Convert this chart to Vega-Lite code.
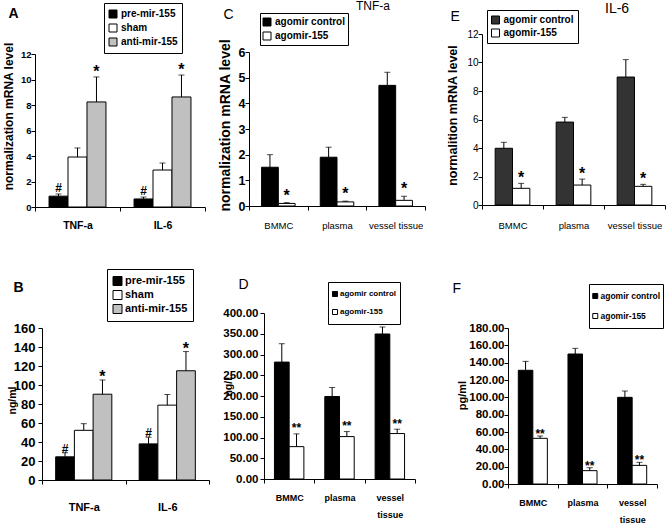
{
  "$schema": "https://vega.github.io/schema/vega-lite/v6.json",
  "padding": 0,
  "spacing": 0,
  "bounds": "flush",
  "align": "each",
  "columns": 3,
  "resolve": {
    "scale": {"color": "independent", "xOffset": "independent", "x": "independent", "y": "independent"},
    "legend": {"color": "independent"}
  },
  "config": {
    "view": {"stroke": null},
    "axis": {"domainColor": "black", "tickColor": "black", "labelColor": "black", "titleColor": "black", "grid": false, "tickSize": 4, "domainWidth": 1, "tickWidth": 1},
    "legend": {"strokeColor": "black", "fillColor": "white", "symbolType": "square", "symbolStrokeColor": "black", "symbolStrokeWidth": 1, "labelColor": "black", "labelOffset": 3, "labelFontWeight": "bold", "labelFont": "Liberation Sans, Arial, sans-serif", "rowPadding": 0}
  },
  "concat": [
    {
      "width": 220, "height": 250,
      "data": {"values": [
        {"cat": "TNF-a", "grp": "pre-mir-155", "val": 0.85, "hi": 1.02, "sig": "#"},
        {"cat": "TNF-a", "grp": "sham", "val": 3.92, "hi": 4.63, "sig": ""},
        {"cat": "TNF-a", "grp": "anti-mir-155", "val": 8.24, "hi": 10.2, "sig": "*"},
        {"cat": "IL-6", "grp": "pre-mir-155", "val": 0.63, "hi": 0.78, "sig": "#"},
        {"cat": "IL-6", "grp": "sham", "val": 2.9, "hi": 3.45, "sig": ""},
        {"cat": "IL-6", "grp": "anti-mir-155", "val": 8.63, "hi": 10.35, "sig": "*"}
      ]},
      "encoding": {
        "x": {"field": "cat", "type": "nominal", "sort": ["TNF-a", "IL-6"], "scale": {"range": [35, 205], "paddingInner": 0, "paddingOuter": 0},
          "axis": {"offset": -43, "title": "A", "titleX": 8, "titleY": -190, "titleAlign": "left", "titleBaseline": "alphabetic", "titleAngle": 0, "titleFont": "Liberation Sans, Arial, sans-serif", "titleFontSize": 14, "titleFontWeight": "bold",
            "labelAngle": 0, "labelFont": "Liberation Sans, Arial, sans-serif", "labelFontSize": 10.5, "labelFontWeight": "bold", "labelPadding": 9.5, "tickBand": "extent"}},
        "xOffset": {"field": "grp", "type": "nominal", "sort": ["pre-mir-155", "sham", "anti-mir-155"], "scale": {"paddingInner": 0, "paddingOuter": 0.74}},
        "y": {"field": "val", "type": "quantitative", "scale": {"domain": [0, 12], "nice": false, "range": [207, 54]},
          "axis": {"values": [0, 2, 4, 6, 8, 10, 12], "offset": -35, "title": "normalization mRNA level", "labelFont": "Liberation Sans, Arial, sans-serif", "labelFontSize": 9.5, "labelFontWeight": "bold", "labelPadding": 0,
            "titleX": -27, "titleY": 116, "titleAlign": "center", "titleBaseline": "middle", "titleAngle": 270, "titleFont": "Liberation Sans, Arial, sans-serif", "titleFontSize": 12, "titleFontWeight": "bold"}}
      },
      "layer": [
        {"mark": {"type": "bar", "stroke": "black", "strokeWidth": 1},
          "encoding": {
            "color": {"field": "grp", "type": "nominal", "sort": ["pre-mir-155", "sham", "anti-mir-155"],
              "scale": {"domain": ["pre-mir-155", "sham", "anti-mir-155"], "range": ["#000000", "#ffffff", "#c0c0c0"]},
              "legend": {"orient": "none", "legendX": 104, "legendY": 3, "title": null, "padding": 4, "symbolSize": 64, "clipHeight": 14, "labelFontSize": 10}}
          }},
        {"mark": {"type": "rule", "color": "black", "strokeWidth": 1}, "encoding": {"y2": {"field": "hi"}}},
        {"mark": {"type": "tick", "color": "black", "size": 6, "thickness": 1, "orient": "horizontal"}, "encoding": {"y": {"field": "hi", "type": "quantitative", "scale": {"domain": [0, 12], "nice": false, "range": [207, 54]},
          "axis": {"values": [0, 2, 4, 6, 8, 10, 12], "offset": -35, "title": "normalization mRNA level", "labelFont": "Liberation Sans, Arial, sans-serif", "labelFontSize": 9.5, "labelFontWeight": "bold", "labelPadding": 0,
            "titleX": -27, "titleY": 116, "titleAlign": "center", "titleBaseline": "middle", "titleAngle": 270, "titleFont": "Liberation Sans, Arial, sans-serif", "titleFontSize": 12, "titleFontWeight": "bold"}}}},
        {"transform": [{"filter": "datum.sig == '#'"}], "mark": {"type": "text", "font": "Liberation Sans, Arial, sans-serif", "fontSize": 12, "fontWeight": "bold", "baseline": "alphabetic", "dy": -2},
          "encoding": {"y": {"field": "hi", "type": "quantitative", "scale": {"domain": [0, 12], "nice": false, "range": [207, 54]},
          "axis": {"values": [0, 2, 4, 6, 8, 10, 12], "offset": -35, "title": "normalization mRNA level", "labelFont": "Liberation Sans, Arial, sans-serif", "labelFontSize": 9.5, "labelFontWeight": "bold", "labelPadding": 0,
            "titleX": -27, "titleY": 116, "titleAlign": "center", "titleBaseline": "middle", "titleAngle": 270, "titleFont": "Liberation Sans, Arial, sans-serif", "titleFontSize": 12, "titleFontWeight": "bold"}}, "text": {"field": "sig"}}},
        {"transform": [{"filter": "datum.sig == '*'"}], "mark": {"type": "text", "font": "Liberation Sans, Arial, sans-serif", "fontSize": 16, "fontWeight": "bold", "baseline": "alphabetic", "dy": 0},
          "encoding": {"y": {"field": "hi", "type": "quantitative", "scale": {"domain": [0, 12], "nice": false, "range": [207, 54]},
          "axis": {"values": [0, 2, 4, 6, 8, 10, 12], "offset": -35, "title": "normalization mRNA level", "labelFont": "Liberation Sans, Arial, sans-serif", "labelFontSize": 9.5, "labelFontWeight": "bold", "labelPadding": 0,
            "titleX": -27, "titleY": 116, "titleAlign": "center", "titleBaseline": "middle", "titleAngle": 270, "titleFont": "Liberation Sans, Arial, sans-serif", "titleFontSize": 12, "titleFontWeight": "bold"}}, "text": {"field": "sig"}}}
      ]
    },
    {
      "width": 220, "height": 250,
      "title": {"text": "TNF-a", "anchor": "start", "frame": "group", "dx": 136, "offset": -22, "baseline": "alphabetic", "font": "Liberation Sans, Arial, sans-serif", "fontSize": 12, "fontWeight": "normal", "color": "black"},
      "data": {"values": [
        {"cat": "BMMC", "grp": "agomir control", "val": 1.51, "hi": 2.0, "sig": ""},
        {"cat": "BMMC", "grp": "agomir-155", "val": 0.10, "hi": 0.13, "sig": "*"},
        {"cat": "plasma", "grp": "agomir control", "val": 1.9, "hi": 2.29, "sig": ""},
        {"cat": "plasma", "grp": "agomir-155", "val": 0.16, "hi": 0.19, "sig": "*"},
        {"cat": "vessel tissue", "grp": "agomir control", "val": 4.70, "hi": 5.21, "sig": ""},
        {"cat": "vessel tissue", "grp": "agomir-155", "val": 0.22, "hi": 0.38, "sig": "*"}
      ]},
      "encoding": {
        "x": {"field": "cat", "type": "nominal", "sort": ["BMMC", "plasma", "vessel tissue"], "scale": {"range": [29, 205], "paddingInner": 0, "paddingOuter": 0},
          "axis": {"offset": -44, "title": "C", "titleX": 3, "titleY": -188, "titleAlign": "left", "titleBaseline": "alphabetic", "titleAngle": 0, "titleFont": "Liberation Sans, Arial, sans-serif", "titleFontSize": 14, "titleFontWeight": "normal",
            "labelAngle": 0, "labelFont": "Liberation Sans, Arial, sans-serif", "labelFontSize": 9.5, "labelFontWeight": "normal", "labelPadding": 10, "tickBand": "extent"}},
        "xOffset": {"field": "grp", "type": "nominal", "sort": ["agomir control", "agomir-155"], "scale": {"paddingInner": 0, "paddingOuter": 0.75}},
        "y": {"field": "val", "type": "quantitative", "scale": {"domain": [0, 6], "nice": false, "range": [206, 52]},
          "axis": {"values": [0, 1, 2, 3, 4, 5, 6], "offset": -29, "title": "normalization mRNA level", "labelFont": "Liberation Sans, Arial, sans-serif", "labelFontSize": 12.5, "labelFontWeight": "bold", "labelPadding": 0,
            "titleX": -24, "titleY": 125, "titleAlign": "center", "titleBaseline": "middle", "titleAngle": 270, "titleFont": "Liberation Sans, Arial, sans-serif", "titleFontSize": 14, "titleFontWeight": "bold"}}
      },
      "layer": [
        {"mark": {"type": "bar", "stroke": "black", "strokeWidth": 1},
          "encoding": {
            "color": {"field": "grp", "type": "nominal", "sort": ["agomir control", "agomir-155"],
              "scale": {"domain": ["agomir control", "agomir-155"], "range": ["#000000", "#ffffff"]},
              "legend": {"orient": "none", "legendX": 40, "legendY": 13, "title": null, "padding": 2, "symbolSize": 64, "clipHeight": 14, "labelFontSize": 10}}
          }},
        {"mark": {"type": "rule", "color": "black", "strokeWidth": 1}, "encoding": {"y2": {"field": "hi"}}},
        {"mark": {"type": "tick", "color": "black", "size": 6, "thickness": 1, "orient": "horizontal"}, "encoding": {"y": {"field": "hi", "type": "quantitative", "scale": {"domain": [0, 6], "nice": false, "range": [206, 52]},
          "axis": {"values": [0, 1, 2, 3, 4, 5, 6], "offset": -29, "title": "normalization mRNA level", "labelFont": "Liberation Sans, Arial, sans-serif", "labelFontSize": 12.5, "labelFontWeight": "bold", "labelPadding": 0,
            "titleX": -24, "titleY": 125, "titleAlign": "center", "titleBaseline": "middle", "titleAngle": 270, "titleFont": "Liberation Sans, Arial, sans-serif", "titleFontSize": 14, "titleFontWeight": "bold"}}}},
        {"mark": {"type": "text", "font": "Liberation Sans, Arial, sans-serif", "fontSize": 16, "fontWeight": "bold", "baseline": "alphabetic", "dy": -2},
          "encoding": {"y": {"field": "hi", "type": "quantitative", "scale": {"domain": [0, 6], "nice": false, "range": [206, 52]},
          "axis": {"values": [0, 1, 2, 3, 4, 5, 6], "offset": -29, "title": "normalization mRNA level", "labelFont": "Liberation Sans, Arial, sans-serif", "labelFontSize": 12.5, "labelFontWeight": "bold", "labelPadding": 0,
            "titleX": -24, "titleY": 125, "titleAlign": "center", "titleBaseline": "middle", "titleAngle": 270, "titleFont": "Liberation Sans, Arial, sans-serif", "titleFontSize": 14, "titleFontWeight": "bold"}}, "text": {"field": "sig"}}}
      ]
    },
    {
      "width": 230, "height": 250,
      "title": {"text": "IL-6", "anchor": "start", "frame": "group", "dx": 165, "offset": -27, "baseline": "alphabetic", "font": "Liberation Sans, Arial, sans-serif", "fontSize": 14, "fontWeight": "normal", "color": "black"},
      "data": {"values": [
        {"cat": "BMMC", "grp": "agomir control", "val": 3.98, "hi": 4.4, "sig": ""},
        {"cat": "BMMC", "grp": "agomir-155", "val": 1.17, "hi": 1.52, "sig": "*"},
        {"cat": "plasma", "grp": "agomir control", "val": 5.82, "hi": 6.15, "sig": ""},
        {"cat": "plasma", "grp": "agomir-155", "val": 1.40, "hi": 1.82, "sig": "*"},
        {"cat": "vessel tissue", "grp": "agomir control", "val": 8.98, "hi": 10.2, "sig": ""},
        {"cat": "vessel tissue", "grp": "agomir-155", "val": 1.31, "hi": 1.45, "sig": "*"}
      ]},
      "encoding": {
        "x": {"field": "cat", "type": "nominal", "sort": ["BMMC", "plasma", "vessel tissue"], "scale": {"range": [42, 225], "paddingInner": 0, "paddingOuter": 0},
          "axis": {"offset": -45, "title": "E", "titleX": 10, "titleY": -185, "titleAlign": "left", "titleBaseline": "alphabetic", "titleAngle": 0, "titleFont": "Liberation Sans, Arial, sans-serif", "titleFontSize": 14, "titleFontWeight": "normal",
            "labelAngle": 0, "labelFont": "Liberation Sans, Arial, sans-serif", "labelFontSize": 9.5, "labelFontWeight": "normal", "labelPadding": 11, "tickBand": "extent"}},
        "xOffset": {"field": "grp", "type": "nominal", "sort": ["agomir control", "agomir-155"], "scale": {"paddingInner": 0, "paddingOuter": 0.76}},
        "y": {"field": "val", "type": "quantitative", "scale": {"domain": [0, 12], "nice": false, "range": [205, 34]},
          "axis": {"values": [0, 2, 4, 6, 8, 10, 12], "offset": -42, "title": "normalition mRNA level", "labelFont": "Liberation Sans, Arial, sans-serif", "labelFontSize": 10, "labelFontWeight": "normal", "labelPadding": 0,
            "titleX": -30, "titleY": 115, "titleAlign": "center", "titleBaseline": "middle", "titleAngle": 270, "titleFont": "Liberation Sans, Arial, sans-serif", "titleFontSize": 12.5, "titleFontWeight": "bold"}}
      },
      "layer": [
        {"mark": {"type": "bar", "stroke": "black", "strokeWidth": 1},
          "encoding": {
            "color": {"field": "grp", "type": "nominal", "sort": ["agomir control", "agomir-155"],
              "scale": {"domain": ["agomir control", "agomir-155"], "range": ["#333333", "#ffffff"]},
              "legend": {"orient": "none", "legendX": 47, "legendY": 10, "title": null, "padding": 3.5, "symbolSize": 64, "clipHeight": 13, "labelFontSize": 10}}
          }},
        {"mark": {"type": "rule", "color": "black", "strokeWidth": 1}, "encoding": {"y2": {"field": "hi"}}},
        {"mark": {"type": "tick", "color": "black", "size": 6, "thickness": 1, "orient": "horizontal"}, "encoding": {"y": {"field": "hi", "type": "quantitative", "scale": {"domain": [0, 12], "nice": false, "range": [205, 34]},
          "axis": {"values": [0, 2, 4, 6, 8, 10, 12], "offset": -42, "title": "normalition mRNA level", "labelFont": "Liberation Sans, Arial, sans-serif", "labelFontSize": 10, "labelFontWeight": "normal", "labelPadding": 0,
            "titleX": -30, "titleY": 115, "titleAlign": "center", "titleBaseline": "middle", "titleAngle": 270, "titleFont": "Liberation Sans, Arial, sans-serif", "titleFontSize": 12.5, "titleFontWeight": "bold"}}}},
        {"mark": {"type": "text", "font": "Liberation Sans, Arial, sans-serif", "fontSize": 16, "fontWeight": "bold", "baseline": "alphabetic", "dy": 0},
          "encoding": {"y": {"field": "hi", "type": "quantitative", "scale": {"domain": [0, 12], "nice": false, "range": [205, 34]},
          "axis": {"values": [0, 2, 4, 6, 8, 10, 12], "offset": -42, "title": "normalition mRNA level", "labelFont": "Liberation Sans, Arial, sans-serif", "labelFontSize": 10, "labelFontWeight": "normal", "labelPadding": 0,
            "titleX": -30, "titleY": 115, "titleAlign": "center", "titleBaseline": "middle", "titleAngle": 270, "titleFont": "Liberation Sans, Arial, sans-serif", "titleFontSize": 12.5, "titleFontWeight": "bold"}}, "text": {"field": "sig"}}}
      ]
    },
    {
      "width": 220, "height": 278,
      "data": {"values": [
        {"cat": "TNF-a", "grp": "pre-mir-155", "val": 24.4, "hi": 28.6, "sig": "#"},
        {"cat": "TNF-a", "grp": "sham", "val": 52.3, "hi": 59.3, "sig": ""},
        {"cat": "TNF-a", "grp": "anti-mir-155", "val": 90.3, "hi": 105.3, "sig": "*"},
        {"cat": "IL-6", "grp": "pre-mir-155", "val": 38, "hi": 45, "sig": "#"},
        {"cat": "IL-6", "grp": "sham", "val": 78.8, "hi": 90, "sig": ""},
        {"cat": "IL-6", "grp": "anti-mir-155", "val": 115, "hi": 135.2, "sig": "*"}
      ]},
      "encoding": {
        "x": {"field": "cat", "type": "nominal", "sort": ["TNF-a", "IL-6"], "scale": {"range": [42, 209], "paddingInner": 0, "paddingOuter": 0},
          "axis": {"offset": -48, "title": "B", "titleX": 13, "titleY": -189, "titleAlign": "left", "titleBaseline": "alphabetic", "titleAngle": 0, "titleFont": "Liberation Sans, Arial, sans-serif", "titleFontSize": 14, "titleFontWeight": "bold",
            "labelAngle": 0, "labelFont": "Liberation Sans, Arial, sans-serif", "labelFontSize": 11, "labelFontWeight": "bold", "labelPadding": 17, "tickBand": "extent"}},
        "xOffset": {"field": "grp", "type": "nominal", "sort": ["pre-mir-155", "sham", "anti-mir-155"], "scale": {"paddingInner": 0, "paddingOuter": 0.73}},
        "y": {"field": "val", "type": "quantitative", "scale": {"domain": [0, 160], "nice": false, "range": [230, 78]},
          "axis": {"values": [0, 20, 40, 60, 80, 100, 120, 140, 160], "offset": -42, "title": "ng/ml", "labelFont": "Liberation Sans, Arial, sans-serif", "labelFontSize": 13, "labelFontWeight": "bold", "labelPadding": 3,
            "titleX": -30, "titleY": 150, "titleAlign": "center", "titleBaseline": "middle", "titleAngle": 270, "titleFont": "Liberation Sans, Arial, sans-serif", "titleFontSize": 10.5, "titleFontWeight": "bold"}}
      },
      "layer": [
        {"mark": {"type": "bar", "stroke": "black", "strokeWidth": 1},
          "encoding": {
            "color": {"field": "grp", "type": "nominal", "sort": ["pre-mir-155", "sham", "anti-mir-155"],
              "scale": {"domain": ["pre-mir-155", "sham", "anti-mir-155"], "range": ["#000000", "#ffffff", "#c0c0c0"]},
              "legend": {"orient": "none", "legendX": 107, "legendY": 19, "title": null, "padding": 5, "symbolSize": 81, "clipHeight": 14, "labelOffset": 2, "labelFontSize": 11}}
          }},
        {"mark": {"type": "rule", "color": "black", "strokeWidth": 1}, "encoding": {"y2": {"field": "hi"}}},
        {"mark": {"type": "tick", "color": "black", "size": 6, "thickness": 1, "orient": "horizontal"}, "encoding": {"y": {"field": "hi", "type": "quantitative", "scale": {"domain": [0, 160], "nice": false, "range": [230, 78]},
          "axis": {"values": [0, 20, 40, 60, 80, 100, 120, 140, 160], "offset": -42, "title": "ng/ml", "labelFont": "Liberation Sans, Arial, sans-serif", "labelFontSize": 13, "labelFontWeight": "bold", "labelPadding": 3,
            "titleX": -30, "titleY": 150, "titleAlign": "center", "titleBaseline": "middle", "titleAngle": 270, "titleFont": "Liberation Sans, Arial, sans-serif", "titleFontSize": 10.5, "titleFontWeight": "bold"}}}},
        {"transform": [{"filter": "datum.sig == '#'"}], "mark": {"type": "text", "font": "Liberation Sans, Arial, sans-serif", "fontSize": 12, "fontWeight": "bold", "baseline": "alphabetic", "dy": 0},
          "encoding": {"y": {"field": "hi", "type": "quantitative", "scale": {"domain": [0, 160], "nice": false, "range": [230, 78]},
          "axis": {"values": [0, 20, 40, 60, 80, 100, 120, 140, 160], "offset": -42, "title": "ng/ml", "labelFont": "Liberation Sans, Arial, sans-serif", "labelFontSize": 13, "labelFontWeight": "bold", "labelPadding": 3,
            "titleX": -30, "titleY": 150, "titleAlign": "center", "titleBaseline": "middle", "titleAngle": 270, "titleFont": "Liberation Sans, Arial, sans-serif", "titleFontSize": 10.5, "titleFontWeight": "bold"}}, "text": {"field": "sig"}}},
        {"transform": [{"filter": "datum.sig == '*'"}], "mark": {"type": "text", "font": "Liberation Sans, Arial, sans-serif", "fontSize": 16, "fontWeight": "bold", "baseline": "alphabetic", "dy": 2},
          "encoding": {"y": {"field": "hi", "type": "quantitative", "scale": {"domain": [0, 160], "nice": false, "range": [230, 78]},
          "axis": {"values": [0, 20, 40, 60, 80, 100, 120, 140, 160], "offset": -42, "title": "ng/ml", "labelFont": "Liberation Sans, Arial, sans-serif", "labelFontSize": 13, "labelFontWeight": "bold", "labelPadding": 3,
            "titleX": -30, "titleY": 150, "titleAlign": "center", "titleBaseline": "middle", "titleAngle": 270, "titleFont": "Liberation Sans, Arial, sans-serif", "titleFontSize": 10.5, "titleFontWeight": "bold"}}, "text": {"field": "sig"}}}
      ]
    },
    {
      "width": 220, "height": 278,
      "data": {"values": [
        {"cat": "BMMC", "grp": "agomir control", "val": 281.7, "hi": 326, "sig": ""},
        {"cat": "BMMC", "grp": "agomir-155", "val": 78, "hi": 108.7, "sig": "**"},
        {"cat": "plasma", "grp": "agomir control", "val": 198.8, "hi": 220.5, "sig": ""},
        {"cat": "plasma", "grp": "agomir-155", "val": 102.2, "hi": 114.3, "sig": "**"},
        {"cat": "vessel tissue", "grp": "agomir control", "val": 349.4, "hi": 366.3, "sig": ""},
        {"cat": "vessel tissue", "grp": "agomir-155", "val": 109.5, "hi": 120, "sig": "**"}
      ]},
      "encoding": {
        "x": {"field": "cat", "type": "nominal", "sort": ["BMMC", "plasma", "vessel tissue"], "scale": {"range": [44, 195], "paddingInner": 0, "paddingOuter": 0},
          "axis": {"offset": -49, "title": "D", "titleX": 18, "titleY": -191, "titleAlign": "left", "titleBaseline": "alphabetic", "titleAngle": 0, "titleFont": "Liberation Sans, Arial, sans-serif", "titleFontSize": 14, "titleFontWeight": "normal",
            "labelAngle": 0, "labelExpr": "split(datum.label, ' ')", "labelLineHeight": 17, "labelFont": "Liberation Sans, Arial, sans-serif", "labelFontSize": 9, "labelFontWeight": "bold", "labelPadding": 10.5, "tickBand": "extent"}},
        "xOffset": {"field": "grp", "type": "nominal", "sort": ["agomir control", "agomir-155"], "scale": {"paddingInner": 0, "paddingOuter": 0.71}},
        "y": {"field": "val", "type": "quantitative", "scale": {"domain": [0, 400], "nice": false, "range": [229, 63]},
          "axis": {"values": [0, 50, 100, 150, 200, 250, 300, 350, 400], "format": ".2f", "offset": -44, "title": "ng/L", "labelFont": "Liberation Sans, Arial, sans-serif", "labelFontSize": 11.5, "labelFontWeight": "bold", "labelPadding": 2,
            "titleX": -36, "titleY": 135, "titleAlign": "center", "titleBaseline": "middle", "titleAngle": 270, "titleFont": "Liberation Sans, Arial, sans-serif", "titleFontSize": 10.5, "titleFontWeight": "bold"}}
      },
      "layer": [
        {"mark": {"type": "bar", "stroke": "black", "strokeWidth": 1},
          "encoding": {
            "color": {"field": "grp", "type": "nominal", "sort": ["agomir control", "agomir-155"],
              "scale": {"domain": ["agomir control", "agomir-155"], "range": ["#000000", "#ffffff"]},
              "legend": {"orient": "none", "legendX": 108, "legendY": 32, "title": null, "padding": 3, "symbolSize": 25, "clipHeight": 18, "labelOffset": 1, "labelFontSize": 8}}
          }},
        {"mark": {"type": "rule", "color": "black", "strokeWidth": 1}, "encoding": {"y2": {"field": "hi"}}},
        {"mark": {"type": "tick", "color": "black", "size": 6, "thickness": 1, "orient": "horizontal"}, "encoding": {"y": {"field": "hi", "type": "quantitative", "scale": {"domain": [0, 400], "nice": false, "range": [229, 63]},
          "axis": {"values": [0, 50, 100, 150, 200, 250, 300, 350, 400], "format": ".2f", "offset": -44, "title": "ng/L", "labelFont": "Liberation Sans, Arial, sans-serif", "labelFontSize": 11.5, "labelFontWeight": "bold", "labelPadding": 2,
            "titleX": -36, "titleY": 135, "titleAlign": "center", "titleBaseline": "middle", "titleAngle": 270, "titleFont": "Liberation Sans, Arial, sans-serif", "titleFontSize": 10.5, "titleFontWeight": "bold"}}}},
        {"mark": {"type": "text", "font": "Liberation Sans, Arial, sans-serif", "fontSize": 12, "fontWeight": "bold", "baseline": "alphabetic", "dy": -1.5},
          "encoding": {"y": {"field": "hi", "type": "quantitative", "scale": {"domain": [0, 400], "nice": false, "range": [229, 63]},
          "axis": {"values": [0, 50, 100, 150, 200, 250, 300, 350, 400], "format": ".2f", "offset": -44, "title": "ng/L", "labelFont": "Liberation Sans, Arial, sans-serif", "labelFontSize": 11.5, "labelFontWeight": "bold", "labelPadding": 2,
            "titleX": -36, "titleY": 135, "titleAlign": "center", "titleBaseline": "middle", "titleAngle": 270, "titleFont": "Liberation Sans, Arial, sans-serif", "titleFontSize": 10.5, "titleFontWeight": "bold"}}, "text": {"field": "sig"}}}
      ]
    },
    {
      "width": 230, "height": 278,
      "data": {"values": [
        {"cat": "BMMC", "grp": "agomir control", "val": 131.2, "hi": 141.5, "sig": ""},
        {"cat": "BMMC", "grp": "agomir-155", "val": 52.7, "hi": 55.4, "sig": "**"},
        {"cat": "plasma", "grp": "agomir control", "val": 150, "hi": 156.5, "sig": ""},
        {"cat": "plasma", "grp": "agomir-155", "val": 15.4, "hi": 18.8, "sig": "**"},
        {"cat": "vessel tissue", "grp": "agomir control", "val": 100, "hi": 107.3, "sig": ""},
        {"cat": "vessel tissue", "grp": "agomir-155", "val": 21.5, "hi": 25, "sig": "**"}
      ]},
      "encoding": {
        "x": {"field": "cat", "type": "nominal", "sort": ["BMMC", "plasma", "vessel tissue"], "scale": {"range": [68, 217], "paddingInner": 0, "paddingOuter": 0},
          "axis": {"offset": -44, "title": "F", "titleX": 12, "titleY": -192, "titleAlign": "left", "titleBaseline": "alphabetic", "titleAngle": 0, "titleFont": "Liberation Sans, Arial, sans-serif", "titleFontSize": 14, "titleFontWeight": "normal",
            "labelAngle": 0, "labelExpr": "split(datum.label, ' ')", "labelLineHeight": 17, "labelFont": "Liberation Sans, Arial, sans-serif", "labelFontSize": 9, "labelFontWeight": "bold", "labelPadding": 10.5, "tickBand": "extent"}},
        "xOffset": {"field": "grp", "type": "nominal", "sort": ["agomir control", "agomir-155"], "scale": {"paddingInner": 0, "paddingOuter": 0.71}},
        "y": {"field": "val", "type": "quantitative", "scale": {"domain": [0, 180], "nice": false, "range": [234, 78]},
          "axis": {"values": [0, 20, 40, 60, 80, 100, 120, 140, 160, 180], "format": ".2f", "offset": -68, "title": "pg/ml", "labelFont": "Liberation Sans, Arial, sans-serif", "labelFontSize": 11.5, "labelFontWeight": "bold", "labelPadding": 0,
            "titleX": -46, "titleY": 145, "titleAlign": "center", "titleBaseline": "middle", "titleAngle": 270, "titleFont": "Liberation Sans, Arial, sans-serif", "titleFontSize": 11, "titleFontWeight": "bold"}}
      },
      "layer": [
        {"mark": {"type": "bar", "stroke": "black", "strokeWidth": 1},
          "encoding": {
            "color": {"field": "grp", "type": "nominal", "sort": ["agomir control", "agomir-155"],
              "scale": {"domain": ["agomir control", "agomir-155"], "range": ["#000000", "#ffffff"]},
              "legend": {"orient": "none", "legendX": 149, "legendY": 34, "title": null, "padding": 2, "symbolSize": 25, "clipHeight": 20, "labelOffset": 1, "labelFontSize": 8.5}}
          }},
        {"mark": {"type": "rule", "color": "black", "strokeWidth": 1}, "encoding": {"y2": {"field": "hi"}}},
        {"mark": {"type": "tick", "color": "black", "size": 6, "thickness": 1, "orient": "horizontal"}, "encoding": {"y": {"field": "hi", "type": "quantitative", "scale": {"domain": [0, 180], "nice": false, "range": [234, 78]},
          "axis": {"values": [0, 20, 40, 60, 80, 100, 120, 140, 160, 180], "format": ".2f", "offset": -68, "title": "pg/ml", "labelFont": "Liberation Sans, Arial, sans-serif", "labelFontSize": 11.5, "labelFontWeight": "bold", "labelPadding": 0,
            "titleX": -46, "titleY": 145, "titleAlign": "center", "titleBaseline": "middle", "titleAngle": 270, "titleFont": "Liberation Sans, Arial, sans-serif", "titleFontSize": 11, "titleFontWeight": "bold"}}}},
        {"mark": {"type": "text", "font": "Liberation Sans, Arial, sans-serif", "fontSize": 12, "fontWeight": "bold", "baseline": "alphabetic", "dy": 2},
          "encoding": {"y": {"field": "hi", "type": "quantitative", "scale": {"domain": [0, 180], "nice": false, "range": [234, 78]},
          "axis": {"values": [0, 20, 40, 60, 80, 100, 120, 140, 160, 180], "format": ".2f", "offset": -68, "title": "pg/ml", "labelFont": "Liberation Sans, Arial, sans-serif", "labelFontSize": 11.5, "labelFontWeight": "bold", "labelPadding": 0,
            "titleX": -46, "titleY": 145, "titleAlign": "center", "titleBaseline": "middle", "titleAngle": 270, "titleFont": "Liberation Sans, Arial, sans-serif", "titleFontSize": 11, "titleFontWeight": "bold"}}, "text": {"field": "sig"}}}
      ]
    }
  ]
}
